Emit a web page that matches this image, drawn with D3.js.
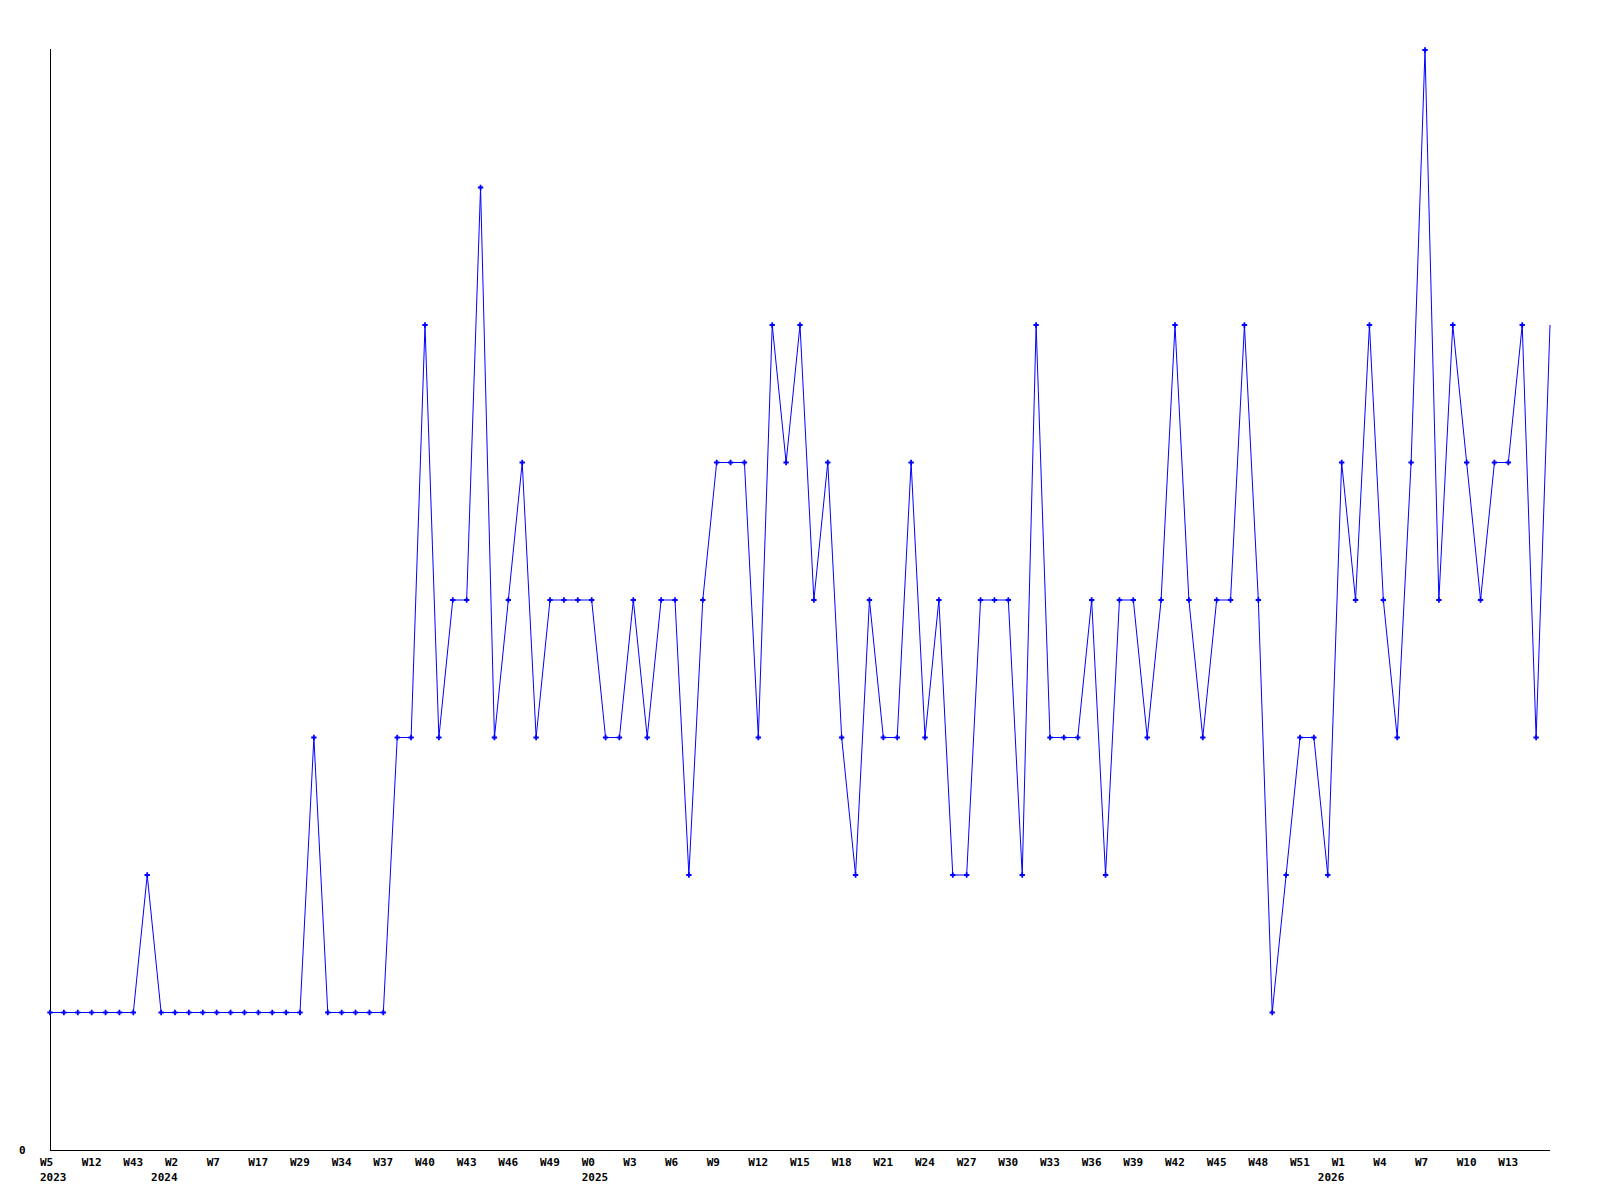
<!DOCTYPE html>
<html>
<head>
<meta charset="utf-8">
<script src="https://cdn.jsdelivr.net/npm/d3@7"></script>
<style>
  html, body { margin: 0; padding: 0; background: #fff; }
  svg text { font-family: "DejaVu Sans Mono", "Liberation Mono", monospace; font-weight: bold; font-size: 11px; fill: #000; }
</style>
</head>
<body>
<svg id="chart" width="1600" height="1200"></svg>
<script>
// weekly values (109 weeks, W5 2023 .. 2026)
const values = [
  1,1,1,1,1,1,1,2,1,1,
  1,1,1,1,1,1,1,1,1,3,
  1,1,1,1,1,3,3,6,3,4,
  4,7,3,4,5,3,4,4,4,4,
  3,3,4,3,4,4,2,4,5,5,
  5,3,6,5,6,4,5,3,2,4,
  3,3,5,3,4,2,2,4,4,4,
  2,6,3,3,3,4,2,4,4,3,
  4,6,4,3,4,4,6,4,1,2,
  3,3,2,5,4,6,4,3,5,8,
  4,6,5,4,5,5,6,3,6
];
// week tick labels and their point index
const tickIndex  = [0,3,6,9,12,15,18,21,24,27,30,33,36,39,42,45,48,51,54,57,60,63,66,69,72,75,78,81,84,87,90,93,96,99,102,105];
const tickLabels = ["W5","W12","W43","W2","W7","W17","W29","W34","W37","W40","W43","W46","W49","W0","W3","W6","W9","W12","W15","W18","W21","W24","W27","W30","W33","W36","W39","W42","W45","W48","W51","W1","W4","W7","W10","W13"];
// year labels and their point index
const yearIndex  = [0,8,39,92];
const yearLabels = ["2023","2024","2025","2026"];
const yTickValues = [0];
const yTickLabels = ["0"];

const svg = d3.select("#chart");
const x = d3.scaleLinear().domain([0, values.length - 1]).range([50, 1550]);
const y = d3.scaleLinear().domain([0, 8]).range([1150, 50]);

// axes lines
svg.append("line").attr("x1", 50).attr("x2", 50).attr("y1", 49).attr("y2", 1150)
  .attr("stroke", "#000").attr("stroke-width", 1).attr("shape-rendering", "crispEdges");
svg.append("line").attr("x1", 50).attr("x2", 1550).attr("y1", 1150).attr("y2", 1150)
  .attr("stroke", "#000").attr("stroke-width", 1).attr("shape-rendering", "crispEdges");

// y labels
svg.selectAll("text.ylab").data(yTickValues).enter().append("text")
  .attr("class", "ylab").attr("x", 19).attr("y", d => y(d) + 4)
  .text((d, i) => yTickLabels[i]);

// x labels
svg.selectAll("text.xlab").data(tickIndex).enter().append("text")
  .attr("class", "xlab").attr("x", d => x(d) - 10).attr("y", 1166)
  .text((d, i) => tickLabels[i]);
svg.selectAll("text.year").data(yearIndex).enter().append("text")
  .attr("class", "year").attr("x", d => x(d) - 10).attr("y", 1181)
  .text((d, i) => yearLabels[i]);

// line
const line = d3.line().x((d, i) => x(i)).y(d => y(d));
svg.append("path").datum(values).attr("d", line)
  .attr("fill", "none").attr("stroke", "#0000ff").attr("stroke-width", 1);

// markers
const sym = d3.symbol().type(d3.symbolCross).size(16);
svg.selectAll("path.pt").data(values.slice(0, values.length - 1)).enter().append("path")
  .attr("class", "pt")
  .attr("transform", (d, i) => `translate(${x(i)},${y(d)})`)
  .attr("d", sym)
  .attr("fill", "#0000ff");
</script>
</body>
</html>
